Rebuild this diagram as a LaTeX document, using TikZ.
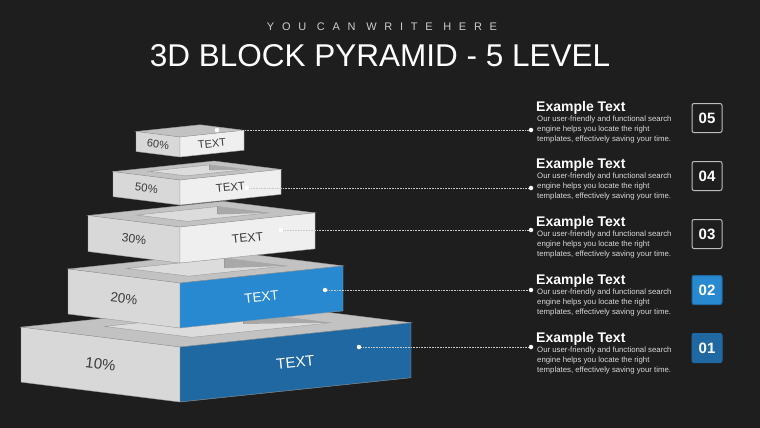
\documentclass[tikz,border=0pt]{standalone}
\usepackage{fontspec}
\setmainfont{Liberation Sans}
\newfontfamily\spacedfont[LetterSpace=70]{Liberation Sans}
\usepackage{xcolor}

\definecolor{bgdark}{HTML}{1E1E1E}
\definecolor{ringgray}{HTML}{C2C2C2}
\definecolor{holelight}{HTML}{DCDCDC}
\definecolor{holedark}{HTML}{A8A8A8}
\definecolor{sideleft}{HTML}{D8D8D8}
\definecolor{sidewhite}{HTML}{EFEFEF}
\definecolor{bluelight}{HTML}{2888D0}
\definecolor{bluedark}{HTML}{1F68A2}
\definecolor{labelgray}{HTML}{3A3A3A}
\definecolor{edgegray}{HTML}{9A9A9A}
\definecolor{leadgray}{HTML}{C8C8C8}
\definecolor{boxline}{HTML}{BDBDBD}

\begin{document}
\begin{tikzpicture}[
  x=1pt, y=-1pt,
  every node/.style={inner sep=0pt},
  edge/.style={draw=edgegray, line width=0.4pt},
  dot/.style={circle, fill=white, minimum size=4.5pt},
  leader/.style={draw=leadgray, line width=0.7pt, dash pattern=on 0.8pt off 0.8pt},
  headline/.style={font=\fontsize{14}{16}\selectfont\bfseries, text=white},
  bodytext/.style={font=\fontsize{7.8}{10}\selectfont, text=white!85!black, align=left},
  numbox/.style={rectangle, rounded corners=2pt, line width=1pt, minimum width=30pt,
                 minimum height=29pt, text=white, font=\fontsize{15}{16}\selectfont\bfseries}
]
\fill[bgdark] (0,0) rectangle (760,428);

\node[font=\spacedfont\fontsize{11}{12}\selectfont, text=white!80!black] (sub) at (382,27) {YOU CAN WRITE HERE};
\node[font=\fontsize{31.5}{36}\selectfont, text=white] (title) at (380,56) {3D BLOCK PYRAMID - 5 LEVEL};

% blocks, bottom one first
\foreach \n/\fy/\wl/\wr/\h/\col/\tc/\pct/\fs in {
    1/347/159/231/55/bluedark/white/10/15,
    2/283/112/163/45/bluelight/white/20/13.5,
    3/227/92/135/36/sidewhite/labelgray/30/12.2,
    4/180/67/101/25/sidewhite/labelgray/50/11.4,
    5/137/44/64/20/sidewhite/labelgray/60/11}{
  \begin{scope}[shift={(180,\fy)}, x={(-\wl pt,0.125*\wl pt)},
                y={(\wr pt,0.105*\wr pt)}, z={(0pt,-\h pt)}]
    \filldraw[edge, fill=ringgray] (0,0,0) -- (1,0,0) -- (1,1,0) -- (0,1,0) -- cycle;
    \ifnum\n<5
      \filldraw[edge, fill=holelight] (.23,.21,0) -- (.78,.21,0) -- (.78,.81,0) -- (.23,.81,0) -- cycle;
      \fill[holedark] (.78,.81,0) -- (.23,.81,0) -- (.78,.81,.22) -- cycle;
      \draw[edge] (.78,.81,0) -- (.78,.81,.22);
    \fi
    \filldraw[edge, fill=sideleft] (0,0,0) -- (1,0,0) -- (1,0,1) -- (0,0,1) -- cycle;
    \filldraw[edge, fill=\col] (0,0,0) -- (0,1,0) -- (0,1,1) -- (0,0,1) -- cycle;
    \node[rotate=-7, text=labelgray, font=\fontsize{\fs}{\fs}\selectfont] (pct\n) at (.5,0,.5) {\pct\%};
    \node[rotate=6, text=\tc, font=\fontsize{\fs}{\fs}\selectfont] (txt\n) at (0,.5,.5) {TEXT};
  \end{scope}
}

% captions, leaders and numbers
\foreach \n/\ty/\bx/\dy/\by/\bfill/\bline in {
    5/111/217/130/118/bgdark/boxline,
    4/168/247/188/176/bgdark/boxline,
    3/226/281/230/234/bgdark/boxline,
    2/284/325/290/290/bluelight/bluedark,
    1/342/359/347/348/bluedark/bluedark}{
  \node[dot] (bd\n) at (\bx,\dy) {};
  \node[dot] (rd\n) at (531,\dy) {};
  \draw[leader] (bd\n) -- (rd\n);
  \node[headline, anchor=base west] (head\n) at (536,\ty) {Example Text};
  \node[bodytext, anchor=north west] (body\n) at (537,\ty+5)
    {Our user-friendly and functional search\\engine helps you locate the right\\templates, effectively saving your time.};
  \node[numbox, fill=\bfill, draw=\bline] (num\n) at (707,\by) {0\n};
}
\end{tikzpicture}
\end{document}
